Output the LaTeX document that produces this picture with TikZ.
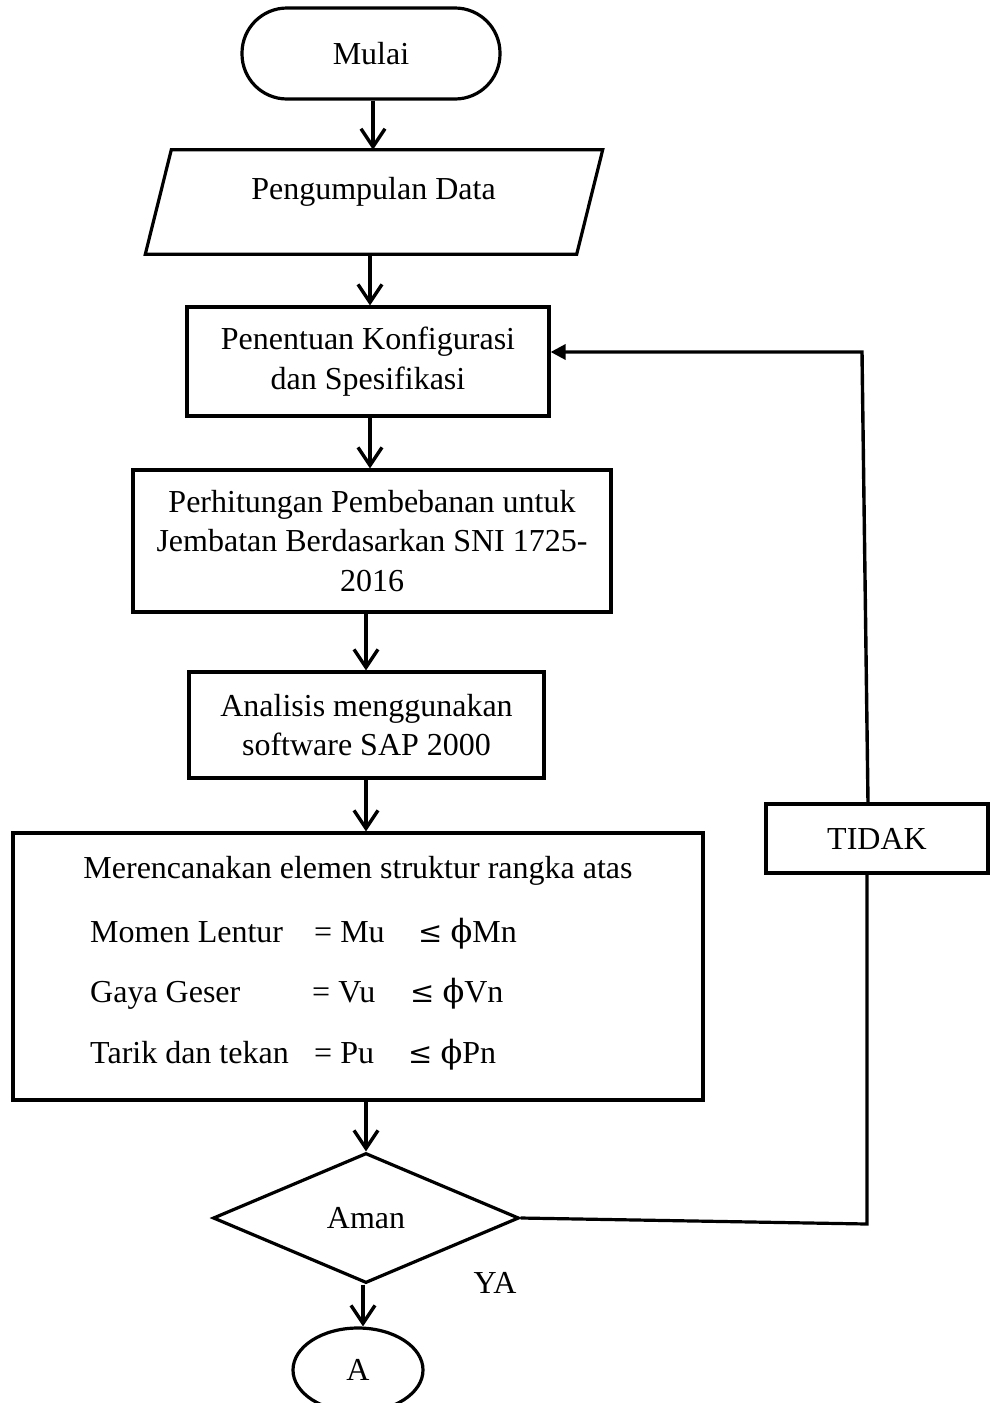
\documentclass[tikz,border=0pt]{standalone}
\usepackage{fontspec}
\setmainfont{Liberation Serif}
\newfontfamily\dvs{DejaVu Serif}
\usetikzlibrary{arrows.meta,shapes.geometric,calc}
\newcommand{\myphi}{{\dvs ϕ}}
\newcommand{\myle}{{\dvs\fontsize{29}{35}\selectfont ≤}}
\begin{document}
\begin{tikzpicture}[x=1pt,y=-1pt,
  every node/.style={font=\fontsize{32}{39.5}\selectfont},
  ln/.style={line width=3.2pt},
  box/.style={draw,line width=3.2pt,inner sep=0pt,align=center},
  term/.style={box,rounded corners=45pt},
  arr/.style={line width=3.4pt,-{Straight Barb[length=18pt,width=24pt]}},
  fb/.style={line width=3.4pt,-{Triangle[length=15pt,width=15pt]}},
  row/.style={anchor=base west,inner sep=0pt}
]
\useasboundingbox (0,0) rectangle (990,1403);
\clip (0,0) rectangle (990,1403);
\fill[white] (0,0) rectangle (990,1403);

\coordinate (xa) at (373,0);
\coordinate (xb) at (370,0);
\coordinate (xc) at (366,0);
\coordinate (xd) at (363,0);
\coordinate (c1) at (867,1224);
\coordinate (c2) at (862,352);
\coordinate (c3) at (868,0);

\node[term,minimum width=258pt,minimum height=91pt] (mulai) at (371,53.5) {Mulai};

\node[inner sep=0pt,minimum width=431pt,minimum height=104pt] (data) at (374,202) {};
\draw[ln] ([xshift=13pt]data.north west) -- ([xshift=13pt]data.north east)
  -- ([xshift=-13pt]data.south east) -- ([xshift=-13pt]data.south west) -- cycle;
\node (datatxt) at (373.5,192) {Pengumpulan Data};

\node[box,minimum width=362pt,minimum height=109pt] (pen) at (368,361.5) {Penentuan Konfigurasi\\dan Spesifikasi};
\node[box,minimum width=478pt,minimum height=142pt] (per) at (372,541) {Perhitungan Pembebanan untuk\\Jembatan Berdasarkan SNI 1725-\\2016};
\node[box,minimum width=355pt,minimum height=106pt] (ana) at (366.5,725) {Analisis menggunakan\\software SAP 2000};
\node[box,minimum width=690pt,minimum height=267pt] (ren) at (358,966.5) {};
\node (rt) at (358,871) {Merencanakan elemen struktur rangka atas};
\node[row] (r1a) at (90,942) {Momen Lentur};
\node[row] (r1b) at (314,942) {= Mu};
\node[row] (r1c) at (418,942) {\myle\ \myphi Mn};
\node[row] (r2a) at (90,1002) {Gaya Geser};
\node[row] (r2b) at (312,1002) {= Vu};
\node[row] (r2c) at (410,1002) {\myle\ \myphi Vn};
\node[row] (r3a) at (90,1063) {Tarik dan tekan};
\node[row] (r3b) at (314,1063) {= Pu};
\node[row] (r3c) at (408,1063) {\myle\ \myphi Pn};

\node[draw,diamond,line width=3.2pt,inner sep=0pt,minimum width=306pt,minimum height=130pt] (dia) at (366,1218) {Aman};
\node (ya) at (495,1283) {YA};
\node[draw,ellipse,line width=3.2pt,inner sep=0pt,minimum width=130pt,minimum height=84pt] (ell) at (358,1370) {A};

\node[box,minimum width=222pt,minimum height=69pt] (tid) at (877,838.5) {TIDAK};

\draw[arr] (mulai.south -| xa) -- (data.north -| xa);
\draw[arr] (data.south -| xb) -- (pen.north -| xb);
\draw[arr] (pen.south -| xb) -- (per.north -| xb);
\draw[arr] (per.south -| xc) -- (ana.north -| xc);
\draw[arr] (ana.south -| xc) -- (ren.north -| xc);
\draw[arr] (ren.south -| xc) -- (dia.north);
\draw[arr] (dia.south -| xd) -- (ell.north -| xd);

\draw[ln] (dia.east) -- (c1) -- (c1 |- tid.south);
\draw[fb] (tid.north -| c3) -- (c2) -- (pen.east |- c2);
\end{tikzpicture}
\end{document}
